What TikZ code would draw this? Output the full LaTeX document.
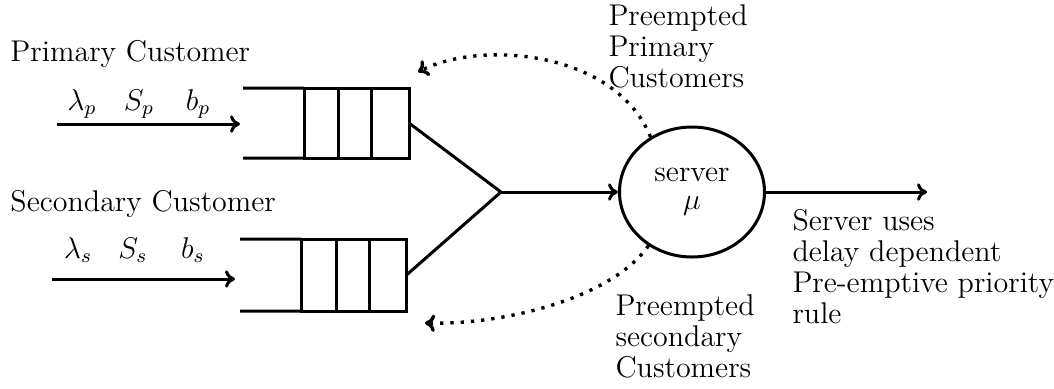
\documentclass[tikz,border=0pt]{standalone}
\usetikzlibrary{shapes.geometric,arrows.meta,calc}
\begin{document}
\begin{tikzpicture}[x=0.4pt,y=-0.4pt,
  every node/.style={font=\fontsize{12}{12.3}\selectfont},
  thick line/.style={line width=1.2pt},
  flow/.style={thick line,-{To[length=4pt,width=7pt]}},
  feedback/.style={line width=1.35pt,dash pattern=on 1.3pt off 2.8pt,line cap=butt,-{To[length=4pt,width=7pt]}},
  queuebox/.style={draw,thick line,rectangle,inner sep=0pt,outer sep=0pt,minimum width=42pt},
  label text/.style={anchor=base west,inner sep=0pt,align=left},
  param/.style={anchor=base,inner sep=0pt}]
\useasboundingbox (0,0) rectangle (1054,388);

% customer classes
\node[label text] (ptxt) at (10,61) {Primary Customer};
\node[label text] (stxt) at (10,211) {Secondary Customer};

\node[param] (lp) at (82,110) {$\lambda_p$};
\node[param] (sp) at (139,110) {$S_p$};
\node[param] (bp) at (198,110) {$b_p$};
\node[param] (ls) at (78,258) {$\lambda_s$};
\node[param] (ss) at (133,258) {$S_s$};
\node[param] (bs) at (193,258) {$b_s$};

% queues: closed buffer part plus open entrance
\node[queuebox,minimum height=28pt] (q1) at (356.5,123) {};
\node[queuebox,minimum height=28.8pt] (q2) at (354,275) {};
\coordinate (q1top) at (243,88);
\coordinate (q1bot) at (243,158);
\coordinate (q2top) at (240,239);
\coordinate (q2bot) at (240,311);
\foreach \q/\t/\b in {q1/q1top/q1bot,q2/q2top/q2bot}{
  \draw[thick line] (\t) -- (\q.north west);
  \draw[thick line] (\b) -- (\q.south west);
  \draw[thick line] ($(\q.north west)!0.33!(\q.north east)$) -- ($(\q.south west)!0.33!(\q.south east)$);
  \draw[thick line] ($(\q.north west)!0.645!(\q.north east)$) -- ($(\q.south west)!0.645!(\q.south east)$);
}

% arrivals
\coordinate (pin) at (57,124);
\coordinate (q1in) at (240,124);
\coordinate (sin) at (52,279);
\coordinate (q2in) at (235,279);
\draw[flow] (pin) -- (q1in);
\draw[flow] (sin) -- (q2in);

% server
\node[draw,thick line,ellipse,minimum width=58pt,minimum height=52pt,inner sep=0pt,align=center] (server) at (692,192)
  {server\\[-1pt]$\mu$};

% merge into server
\coordinate (j) at (501,192);
\draw[thick line] (q1.east) -- (j);
\draw[thick line] (q2.east) -- (j);
\draw[flow] (j) -- (server.west);

% departures
\coordinate (out) at (927,192);
\draw[flow] (server.east) -- (out);

% preempted customers return to their queues
\coordinate (backp) at (418,72);
\coordinate (backs) at (425,323);
\draw[feedback] (server.127) .. controls (615,50) and (480,40) .. (backp);
\draw[feedback] (server.231) .. controls (610,300) and (500,325) .. (backs);

% annotations (anchored at the baseline of their last line)
\node[label text] (pre1) at (608,87) {Preempted\\Primary\\Customers};
\node[label text] (pre2) at (615,377) {Preempted\\secondary\\Customers};
\node[label text] (rule) at (792,323)
  {Server uses\\delay dependent\\Pre-emptive priority\\rule};
\end{tikzpicture}
\end{document}
